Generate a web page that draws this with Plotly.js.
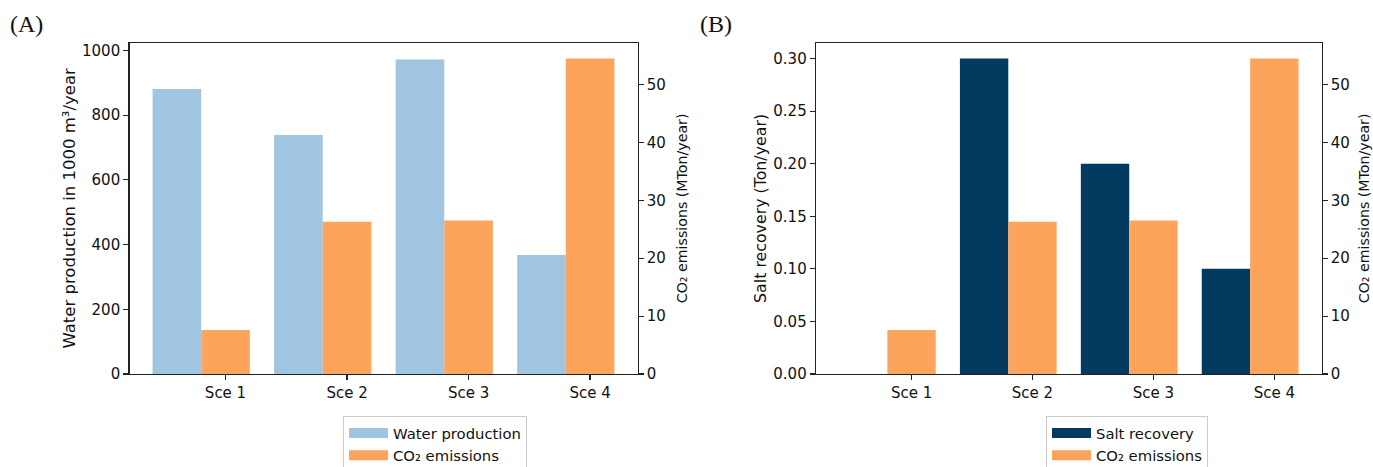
<!DOCTYPE html>
<html>
<head>
<meta charset="utf-8">
<script src="https://cdn.plot.ly/plotly-3.0.1.min.js"></script>
<style>html,body{margin:0;padding:0;background:#fff;}#chart{width:1373px;height:467px;}</style>
</head>
<body>
<div id="chart"></div>
<script>
const scenarios = ["Sce 1", "Sce 2", "Sce 3", "Sce 4"];
const waterProduction = [881, 739, 972, 368];      // 1000 m³/year
const co2Emissions = [7.6, 26.3, 26.5, 54.5];      // MTon/year
const saltRecovery = [0, 0.30, 0.20, 0.10];         // Ton/year

const blue = "#a0c5e0", orange = "#fda45c", navy = "#033b60";
const tickFont = {family: "DejaVu Sans, sans-serif", size: 15, color: "#111"};

const traces = [
  {type: "bar", x: scenarios, y: waterProduction, name: "Water production", showlegend: false,
   marker: {color: blue}, width: 0.4, offset: -0.6, xaxis: "x", yaxis: "y"},
  {type: "bar", x: scenarios, y: co2Emissions, name: "CO₂ emissions", showlegend: false,
   marker: {color: orange}, width: 0.4, offset: -0.2, xaxis: "x", yaxis: "y2"},
  {type: "bar", x: scenarios, y: saltRecovery, name: "Salt recovery", showlegend: false,
   marker: {color: navy}, width: 0.4, offset: -0.6, xaxis: "x2", yaxis: "y3"},
  {type: "bar", x: scenarios, y: co2Emissions, name: "CO₂ emissions", showlegend: false,
   marker: {color: orange}, width: 0.4, offset: -0.2, xaxis: "x2", yaxis: "y4"}
];
// legend keys (wide rectangular swatches like the original)
function key(name, color, legend, xa, ya) {
  return {type: "scatter", mode: "lines", x: [null], y: [null], name: name,
    line: {color: color, width: 10}, legend: legend, xaxis: xa, yaxis: ya, hoverinfo: "skip"};
}
traces.push(key("Water production", blue, "legend", "x", "y"));
traces.push(key("CO₂ emissions", orange, "legend", "x", "y"));
traces.push(key("Salt recovery", navy, "legend2", "x2", "y3"));
traces.push(key("CO₂ emissions", orange, "legend2", "x2", "y3"));

const yDom = [1 - 374/467, 1 - 42.8/467];
const axLine = {showline: true, linecolor: "#222", linewidth: 1.3, ticks: "outside",
  ticklen: 5, tickwidth: 1.2, tickcolor: "#222", showgrid: false, zeroline: false,
  tickfont: tickFont, automargin: false};

const xBase = Object.assign({}, axLine, {type: "category", range: [-0.79, 3.39], mirror: true});

const legendBase = {xanchor: "left", yanchor: "top", bordercolor: "#ccc", borderwidth: 1,
  bgcolor: "#fff", font: {size: 14.8, color: "#111"}, tracegroupgap: 0, itemwidth: 39};

const layout = {
  width: 1373, height: 467,
  margin: {l: 0, r: 0, t: 0, b: 0, autoexpand: false},
  paper_bgcolor: "#fff", plot_bgcolor: "#fff",
  barmode: "overlay",
  font: {family: "DejaVu Sans, sans-serif", color: "#111"},
  xaxis: Object.assign({}, xBase, {domain: [129.5/1373, 637.5/1373], anchor: "y"}),
  xaxis2: Object.assign({}, xBase, {domain: [816/1373, 1321.5/1373], anchor: "y3"}),
  yaxis: Object.assign({}, axLine, {domain: yDom, anchor: "x", range: [0, 1023.75], dtick: 200,
    title: {text: "Water production in 1000 m³/year", font: {size: 16.5, color: "#111"}, standoff: 2}}),
  yaxis2: Object.assign({}, axLine, {overlaying: "y", side: "right", anchor: "x", range: [0, 57.2], dtick: 10,
    title: {text: "CO₂ emissions (MTon/year)", font: {size: 14.2, color: "#111"}, standoff: 12}}),
  yaxis3: Object.assign({}, axLine, {domain: yDom, anchor: "x2", range: [0, 0.315], dtick: 0.05, tickformat: ".2f",
    title: {text: "Salt recovery (Ton/year)", font: {size: 15.8, color: "#111"}, standoff: 2}}),
  yaxis4: Object.assign({}, axLine, {overlaying: "y3", side: "right", anchor: "x2", range: [0, 57.2], dtick: 10,
    title: {text: "CO₂ emissions (MTon/year)", font: {size: 14.2, color: "#111"}, standoff: 10}}),
  legend: Object.assign({}, legendBase, {x: 343/1373, y: 1 - 416/467}),
  legend2: Object.assign({}, legendBase, {x: 1046/1373, y: 1 - 416/467}),
  showlegend: true,
  annotations: [
    {text: "(A)", xref: "paper", yref: "paper", x: 8/1373, y: 1 - 9/467, xanchor: "left", yanchor: "top",
     showarrow: false, font: {family: "Liberation Serif, serif", size: 24, color: "#111"}},
    {text: "(B)", xref: "paper", yref: "paper", x: 698/1373, y: 1 - 9/467, xanchor: "left", yanchor: "top",
     showarrow: false, font: {family: "Liberation Serif, serif", size: 24, color: "#111"}}
  ]
};

Plotly.newPlot("chart", traces, layout, {displayModeBar: false, staticPlot: true});
</script>
</body>
</html>
